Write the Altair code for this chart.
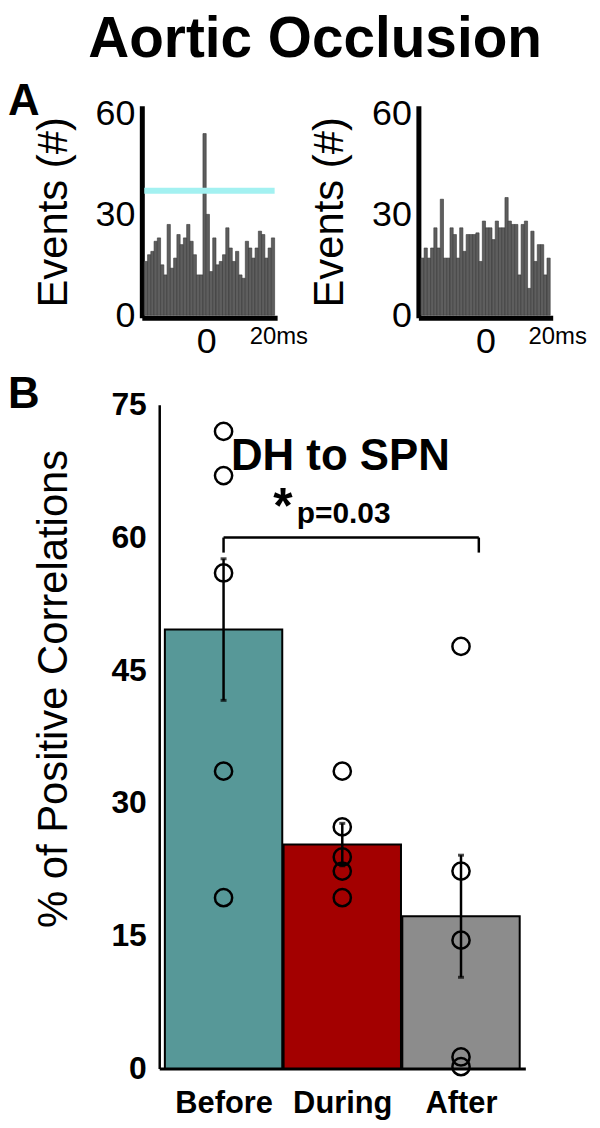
import altair as alt
import pandas as pd

# ---------------- data ----------------
main_title = "Aortic Occlusion"

# Panel A: event counts per 1-ms bin
left_first_bin = -19
left_counts = [16, 18, 19, 22, 23, 15, 12, 27, 14, 17,
               24, 21, 23, 27, 22, 18, 12, 12, 54, 30,
               13, 23, 15, 16, 18, 26, 20, 16, 19, 12,
               11, 22, 20, 17, 20, 25, 24, 17, 20, 23]
left_threshold = [37]

right_first_bin = -20
right_counts = [17, 20, 17, 20, 26, 20, 34.5, 17, 17, 26,
                24, 17, 26, 19, 24, 24, 24, 24.5, 16, 28,
                26, 26, 22.5, 28, 26, 26, 35, 28, 27, 27,
                12, 27, 28, 8, 25, 16, 21, 21, 12, 17]

events_ticks = [0, 30, 60]
time_ticks = [0, 20]

# Panel B
categories = ["Before", "During", "After"]
cat_index = [0, 1, 2]
bar_means = [49.6, 25.3, 17.2]
bar_sems = [8.0, 2.4, 6.9]
bar_colors = ["#579898", "#a30000", "#8c8c8c"]
points_before = [72, 67, 56, 33.6, 19.3]
points_during = [33.6, 27.3, 23.9, 22.3, 19.3]
points_after = [47.7, 22.3, 14.5, 1.3, 0.2]
pct_ticks = [0, 15, 30, 45, 60, 75]

bracket_x = [0, 2.15]
bracket_top = 60
bracket_bottom = 58.3
group_label = "DH to SPN"
star_label = "*"
p_label = "p=0.03"

FONT = "Liberation Sans"

# ---------------- panel A ----------------
def hist_panel(counts, first_bin, threshold=None, letter=None, width=131):
    n = len(counts)
    df = pd.DataFrame({
        "t": [first_bin + i for i in range(n)],
        "t2": [first_bin + i + 1 for i in range(n)],
        "n": counts,
    })
    xscale = alt.Scale(domain=[first_bin, first_bin + n], nice=False, zero=False)
    yscale = alt.Scale(domain=[0, 61.5], nice=False)
    xaxis = alt.Axis(
        values=time_ticks,
        labelExpr="datum.value == 20 ? '20ms' : datum.label",
        labelFontSize={"condition": {"test": "datum.value == 20", "value": 24}, "value": 36},
        labelOffset={"condition": {"test": "datum.value == 20", "value": 7}, "value": 0},
        labelPadding=7,
        labelFlush=False,
        labelOverlap=False,
        ticks=False,
        tickSize=0,
        grid=False,
        domainWidth=5,
        domainColor="black",
        domainCap="square",
        offset=2.5,
        labelColor="black",
        title=None,
    )
    yaxis = alt.Axis(
        values=events_ticks,
        labelFontSize=36,
        labelPadding=7,
        ticks=False,
        tickSize=0,
        grid=False,
        domainWidth=5,
        domainColor="black",
        domainCap="square",
        offset=2.5,
        labelColor="black",
        title="Events (#)",
        titleFontSize=42,
        titleFontWeight="normal",
        titleColor="black",
        titlePadding=20,
    )
    bars = alt.Chart(df).mark_rect(color="#5e5e5e", stroke="#383838", strokeWidth=0.6).encode(
        x=alt.X("t:Q", scale=xscale, axis=xaxis),
        x2="t2:Q",
        y=alt.Y("n:Q", scale=yscale, axis=yaxis),
        y2=alt.datum(0),
    )
    layers = [bars]
    if threshold is not None:
        tdf = pd.DataFrame({"thr": threshold})
        layers.append(alt.Chart(tdf).mark_rule(color="#a3f1f1", strokeWidth=6).encode(y="thr:Q"))
    ch = alt.layer(*layers).properties(width=width, height=208)
    if letter:
        ch = ch.properties(title=alt.TitleParams(
            letter, anchor="start", frame="group", fontSize=44, fontWeight="bold",
            dx=-137, dy=64, offset=0, baseline="alphabetic", color="black"))
    return ch

hist_left = hist_panel(left_counts, left_first_bin, left_threshold, "A", 131)
hist_right = hist_panel(right_counts, right_first_bin, width=130)

# ---------------- panel B ----------------
bar_df = pd.DataFrame({
    "cat": categories,
    "idx": cat_index,
    "mean": bar_means,
    "lo": [m - s for m, s in zip(bar_means, bar_sems)],
    "hi": [m + s for m, s in zip(bar_means, bar_sems)],
})
pts_df = pd.DataFrame({
    "idx": [0] * len(points_before) + [1] * len(points_during) + [2] * len(points_after),
    "v": points_before + points_during + points_after,
})

label_expr = "[" + ",".join("'%s'" % c for c in categories) + "][datum.value]"
bx = alt.Scale(domain=[-0.5, 2.5], range=[15, 383], nice=False, zero=False)
by = alt.Scale(domain=[0, 75], nice=False)

xaxis_b = alt.Axis(
    values=cat_index, labelExpr=label_expr, labelFontSize=31, labelFontWeight="bold",
    labelPadding=20, labelFlush=False, labelOverlap=False, ticks=False, tickSize=0,
    grid=False, domainWidth=3, domainColor="black", labelColor="black", title=None,
)
yaxis_b = alt.Axis(
    values=pct_ticks, labelFontSize=32, labelFontWeight="bold", labelPadding=13,
    ticks=False, tickSize=0, grid=False, domainWidth=2.5, domainColor="black",
    offset=-15, labelColor="black", title="% of Positive Correlations",
    titleFontSize=42, titleFontWeight="normal", titleColor="black", titlePadding=36,
    titleY=285,
)

bars_b = alt.Chart(bar_df).mark_bar(width=118, stroke="black", strokeWidth=2).encode(
    x=alt.X("idx:Q", scale=bx, axis=xaxis_b),
    y=alt.Y("mean:Q", scale=by, axis=yaxis_b),
    color=alt.Color("cat:N", scale=alt.Scale(domain=categories, range=bar_colors), legend=None),
)
err_b = alt.Chart(bar_df).mark_rule(color="black", strokeWidth=2.5).encode(
    x="idx:Q", y="lo:Q", y2="hi:Q")
caps_b = alt.Chart(bar_df).transform_fold(["lo", "hi"], as_=["k", "end"]).mark_tick(
    orient="horizontal", size=6, thickness=3, color="black").encode(x="idx:Q", y="end:Q")
pts_b = alt.Chart(pts_df).mark_point(shape="circle", size=300, filled=False, stroke="black",
                                     strokeWidth=2.5, opacity=1).encode(x="idx:Q", y="v:Q")

br_h = alt.Chart(pd.DataFrame({"x1": [bracket_x[0]], "x2": [bracket_x[1]], "y": [bracket_top]})).mark_rule(
    color="black", strokeWidth=2.5).encode(x="x1:Q", x2="x2:Q", y="y:Q")
br_v = alt.Chart(pd.DataFrame({"x": bracket_x, "y1": [bracket_bottom] * 2, "y2": [bracket_top] * 2})).mark_rule(
    color="black", strokeWidth=2.5).encode(x="x:Q", y="y1:Q", y2="y2:Q")

txt_df = pd.DataFrame({
    "x": [0.984, 0.5, 0.617],
    "y": [67.6, 61.65, 61.65],
    "t": [group_label, star_label, p_label],
})
txt_group = alt.Chart(txt_df.iloc[[0]]).mark_text(fontSize=44, fontWeight="bold", align="center",
                                                  baseline="alphabetic", color="black").encode(
    x="x:Q", y="y:Q", text="t:N")
txt_star = alt.Chart(txt_df.iloc[[1]]).mark_text(fontSize=50, fontWeight="bold", align="center",
                                                 baseline="alphabetic", color="black").encode(
    x="x:Q", y="y:Q", text="t:N")
txt_p = alt.Chart(txt_df.iloc[[2]]).mark_text(fontSize=30, fontWeight="bold", align="left",
                                              baseline="alphabetic", color="black").encode(
    x="x:Q", y="y:Q", text="t:N")

bar_chart = alt.layer(bars_b, err_b, caps_b, pts_b, br_h, br_v, txt_group, txt_star, txt_p).properties(
    width=383, height=667,
    title=alt.TitleParams("B", anchor="start", frame="group", fontSize=44, fontWeight="bold",
                          dx=-137, dy=63, offset=0, baseline="alphabetic", color="black"),
)

top_row = alt.hconcat(hist_left, hist_right, spacing=147, bounds="flush")
chart = alt.vconcat(top_row, bar_chart, spacing=298, bounds="flush").properties(
    title=alt.TitleParams(main_title, fontSize=57, fontWeight="bold", anchor="middle",
                          color="black", offset=12, dx=18),
    padding={"left": 0, "top": 0, "right": 5, "bottom": 5},
).configure(font=FONT).configure_view(stroke=None)

chart.save("out.html", embed_options={"renderer": "svg", "actions": False})
